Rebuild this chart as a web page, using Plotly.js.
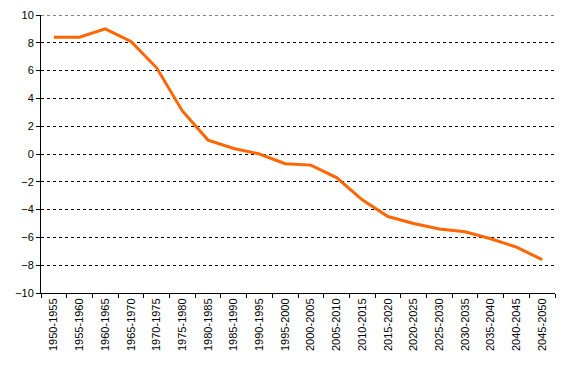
<!DOCTYPE html>
<html>
<head>
<meta charset="utf-8">
<script src="https://cdn.plot.ly/plotly-3.0.1.min.js"></script>
<style>html,body{margin:0;padding:0;background:#fff;}#chart{width:570px;height:370px;}</style>
</head>
<body>
<div id="chart"></div>
<script>
var periods = ["1950-1955","1955-1960","1960-1965","1965-1970","1970-1975","1975-1980","1980-1985","1985-1990","1990-1995","1995-2000","2000-2005","2005-2010","2010-2015","2015-2020","2020-2025","2025-2030","2030-2035","2035-2040","2040-2045","2045-2050"];
var values = [8.4, 8.4, 9.0, 8.1, 6.2, 3.1, 1.0, 0.4, 0.0, -0.7, -0.8, -1.7, -3.3, -4.5, -5.0, -5.4, -5.6, -6.1, -6.7, -7.6];
var yTicks = [-10,-8,-6,-4,-2,0,2,4,6,8,10];
var yMax = 10;

var trace = {
  x: periods, y: values, type: 'scatter', mode: 'lines',
  line: {color: '#FF6600', width: 3}, hoverinfo: 'skip'
};
var layout = {
  width: 570, height: 370,
  margin: {l: 41, r: 15, t: 15, b: 77},
  paper_bgcolor: '#fff', plot_bgcolor: '#fff',
  showlegend: false,
  font: {family: '"Liberation Sans", Arial, sans-serif', size: 11, color: '#000'},
  xaxis: {
    type: 'category', tickson: 'boundaries', ticks: 'outside', ticklen: 4, tickcolor: '#000',
    tickangle: -90, showline: true, linecolor: '#000', linewidth: 1,
    showgrid: false, zeroline: false, range: [-0.5, 19.5],
    tickfont: {size: 11, color: '#000'}
  },
  yaxis: {
    range: [-10, 10], tickvals: yTicks, ticks: 'outside', ticklen: 4, tickcolor: '#000',
    showline: true, linecolor: '#000', linewidth: 1,
    showgrid: true, gridcolor: '#000', gridwidth: 1, griddash: '3px,3px',
    zeroline: false, tickfont: {size: 11, color: '#000'}
  },
  shapes: [{
    type: 'line', xref: 'paper', yref: 'y', x0: 0, x1: 1, y0: yMax, y1: yMax,
    line: {color: '#000', width: 1, dash: '3px,3px'}, layer: 'below'
  }]
};
Plotly.newPlot('chart', [trace], layout, {staticPlot: true, displayModeBar: false});
</script>
</body>
</html>
